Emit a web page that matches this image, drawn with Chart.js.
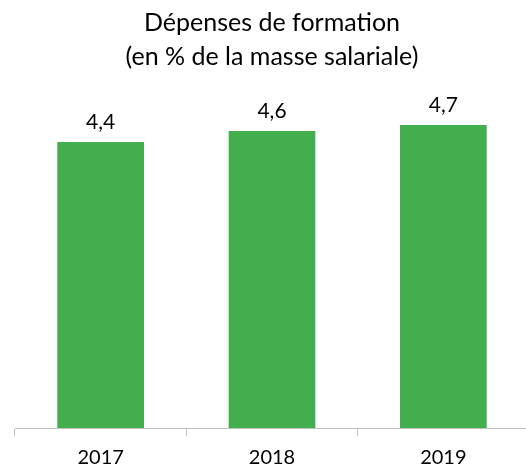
<!DOCTYPE html>
<html>
<head>
<meta charset="utf-8">
<script src="https://cdn.jsdelivr.net/npm/chart.js@4/dist/chart.umd.min.js"></script>
<style>
  html, body { margin:0; padding:0; background:#fff; overflow:hidden; }
  #frame { width:526px; height:471px; overflow:hidden; }
  #wrap { width:529px; height:471px; }
</style>
</head>
<body>
<div id="frame"><div id="wrap"><canvas id="c"></canvas></div></div>
<script>
// data
const years = ['2017', '2018', '2019'];
const depenses = [4.40, 4.57, 4.66];
const titleLines = ['Dépenses de formation', '(en % de la masse salariale)'];

const FONT = 'Lato, "Open Sans", sans-serif';
const fmt = v => v.toFixed(1).replace('.', ',');

// value labels above bars
const valueLabels = {
  id: 'valueLabels',
  afterDatasetsDraw(chart) {
    const ctx = chart.ctx;
    ctx.save();
    ctx.font = '21px ' + FONT;
    ctx.fillStyle = '#000';
    ctx.textAlign = 'center';
    ctx.textBaseline = 'bottom';
    chart.getDatasetMeta(0).data.forEach((bar, i) => {
      ctx.fillText(fmt(depenses[i]), bar.x, bar.y - 9);
    });
    ctx.restore();
  }
};

new Chart(document.getElementById('c'), {
  type: 'bar',
  data: {
    labels: years,
    datasets: [{
      data: depenses,
      backgroundColor: '#43AE4D',
      categoryPercentage: 1,
      barPercentage: 0.506
    }]
  },
  options: {
    responsive: true,
    maintainAspectRatio: false,
    animation: false,
    layout: { padding: { left: 15, right: 0, top: 6, bottom: -9 } },
    plugins: {
      legend: { display: false },
      tooltip: { enabled: false },
      title: {
        display: true,
        text: titleLines,
        color: '#000',
        font: { family: FONT, size: 25, weight: 'normal', lineHeight: 1.36 },
        padding: { top: 0, bottom: 29 },
        // keep the title centred on the visible 526px
        align: 'center'
      }
    },
    scales: {
      x: {
        offset: true,
        grid: { offset: true, drawOnChartArea: false, tickLength: 8, color: '#BFBFBF' },
        border: { color: '#BFBFBF' },
        ticks: { color: '#000', font: { family: FONT, size: 20 }, padding: 10 }
      },
      y: { display: false, min: 0, max: 5 }
    }
  },
  plugins: [valueLabels]
});
</script>
</body>
</html>
